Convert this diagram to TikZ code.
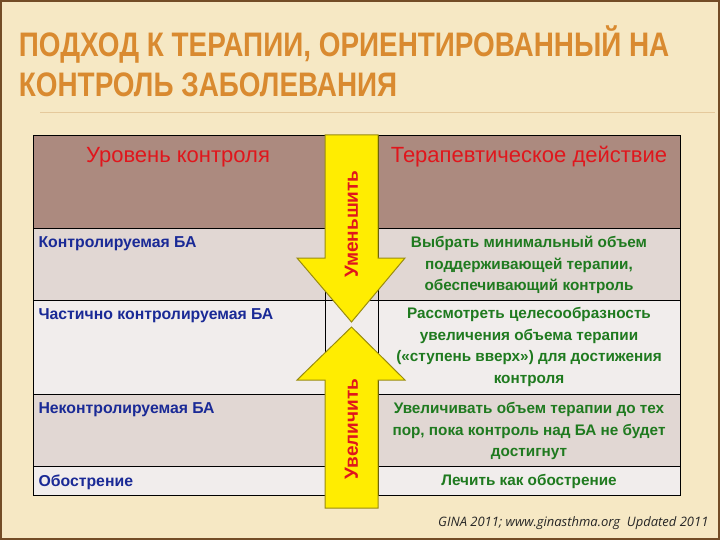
\documentclass[tikz,border=0pt]{standalone}
\usepackage{fontspec}
\setmainfont{Liberation Sans}
\newfontfamily\footfont{Open Sans}
\begin{document}
\begin{tikzpicture}[x=1pt,y=-1pt,
  lefttxt/.style={anchor=north west,text=txtblue,font=\bfseries\fontsize{15.8}{17}\selectfont},
  righttxt/.style={anchor=center,text=txtgreen,align=center,font=\bfseries\fontsize{15.3}{21.5}\selectfont},
  headtxt/.style={text=txtred,font=\fontsize{22}{24}\selectfont},
  arr/.style={fill=yellow!95!orange,draw=olive!80!brown,line width=1pt,line join=miter},
  arrtxt/.style={text=txtred,font=\bfseries\fontsize{19}{21}\selectfont,rotate=90}]
\definecolor{bg}{HTML}{F6E8C4}
\definecolor{hdr}{HTML}{AC8A7F}
\definecolor{rowA}{HTML}{E1D7D3}
\definecolor{rowB}{HTML}{F1EDEC}
\definecolor{txtred}{HTML}{E0161C}
\definecolor{txtblue}{HTML}{1A2A96}
\definecolor{txtgreen}{HTML}{1F7A1F}
\definecolor{ttl}{HTML}{D98A30}
\useasboundingbox (0,0) rectangle (720,540);
\fill[bg] (0,0) rectangle (720,540);
\draw[line width=1.5pt,brown!60!black] (1,1) rectangle (719,539);
\draw[bg!70!brown,line width=1pt] (40,113) -- (715,113);
\node[anchor=west,text=ttl,font=\bfseries\fontsize{34}{36}\selectfont,xscale=0.82] (t1) at (16,44) {ПОДХОД К ТЕРАПИИ, ОРИЕНТИРОВАННЫЙ НА};
\node[anchor=west,text=ttl,font=\bfseries\fontsize{34}{36}\selectfont,xscale=0.82] (t2) at (16,85) {КОНТРОЛЬ ЗАБОЛЕВАНИЯ};
% table
\fill[hdr] (33,135) rectangle (680,228);
\fill[rowA] (33,228) rectangle (680,300);
\fill[rowB] (33,300) rectangle (680,394);
\fill[rowA] (33,394) rectangle (680,466);
\fill[rowB] (33,466) rectangle (680,495);
\draw[black,line width=0.8pt] (33,135) rectangle (680,495);
\foreach \yy in {228,300,394,466} \draw[black,line width=0.7pt] (33,\yy) -- (680,\yy);
\draw[black,line width=0.7pt] (325,135) -- (325,495) (378,135) -- (378,495);
\node[headtxt] (h1) at (178,157) {Уровень контроля};
\node[headtxt] (h2) at (529,157) {Терапевтическое действие};
\node[lefttxt] (l1) at (35,233) {Контролируемая БА};
\node[lefttxt] (l2) at (35,305) {Частично контролируемая БА};
\node[lefttxt] (l3) at (35,399) {Неконтролируемая БА};
\node[lefttxt] (l4) at (35,471) {Обострение};
\node[righttxt] (r1) at (529,265) {Выбрать минимальный объем\\поддерживающей терапии,\\обеспечивающий контроль};
\node[righttxt] (r2) at (529,347) {Рассмотреть целесообразность\\увеличения объема терапии\\(«ступень вверх») для достижения\\контроля};
\node[righttxt] (r3) at (529,431) {Увеличивать объем терапии до тех\\пор, пока контроль над БА не будет\\достигнут};
\node[righttxt] (r4) at (529,481) {Лечить как обострение};
% arrows
\draw[arr] (325,135) -- (378,135) -- (378,258) -- (405,258) -- (351.5,322) -- (297,258) -- (325,258) -- cycle;
\draw[arr] (325,508) -- (378,508) -- (378,380) -- (405,380) -- (351.5,327) -- (297,380) -- (325,380) -- cycle;
\node[arrtxt] (a1) at (351.5,224) {Уменьшить};
\node[arrtxt] (a2) at (351.5,429) {Увеличить};
\node[anchor=east,font=\footfont\itshape\fontsize{13}{15}\selectfont,text=black!85] (f) at (712,523) {GINA 2011; www.ginasthma.org\ \ Updated 2011};
\end{tikzpicture}
\end{document}
